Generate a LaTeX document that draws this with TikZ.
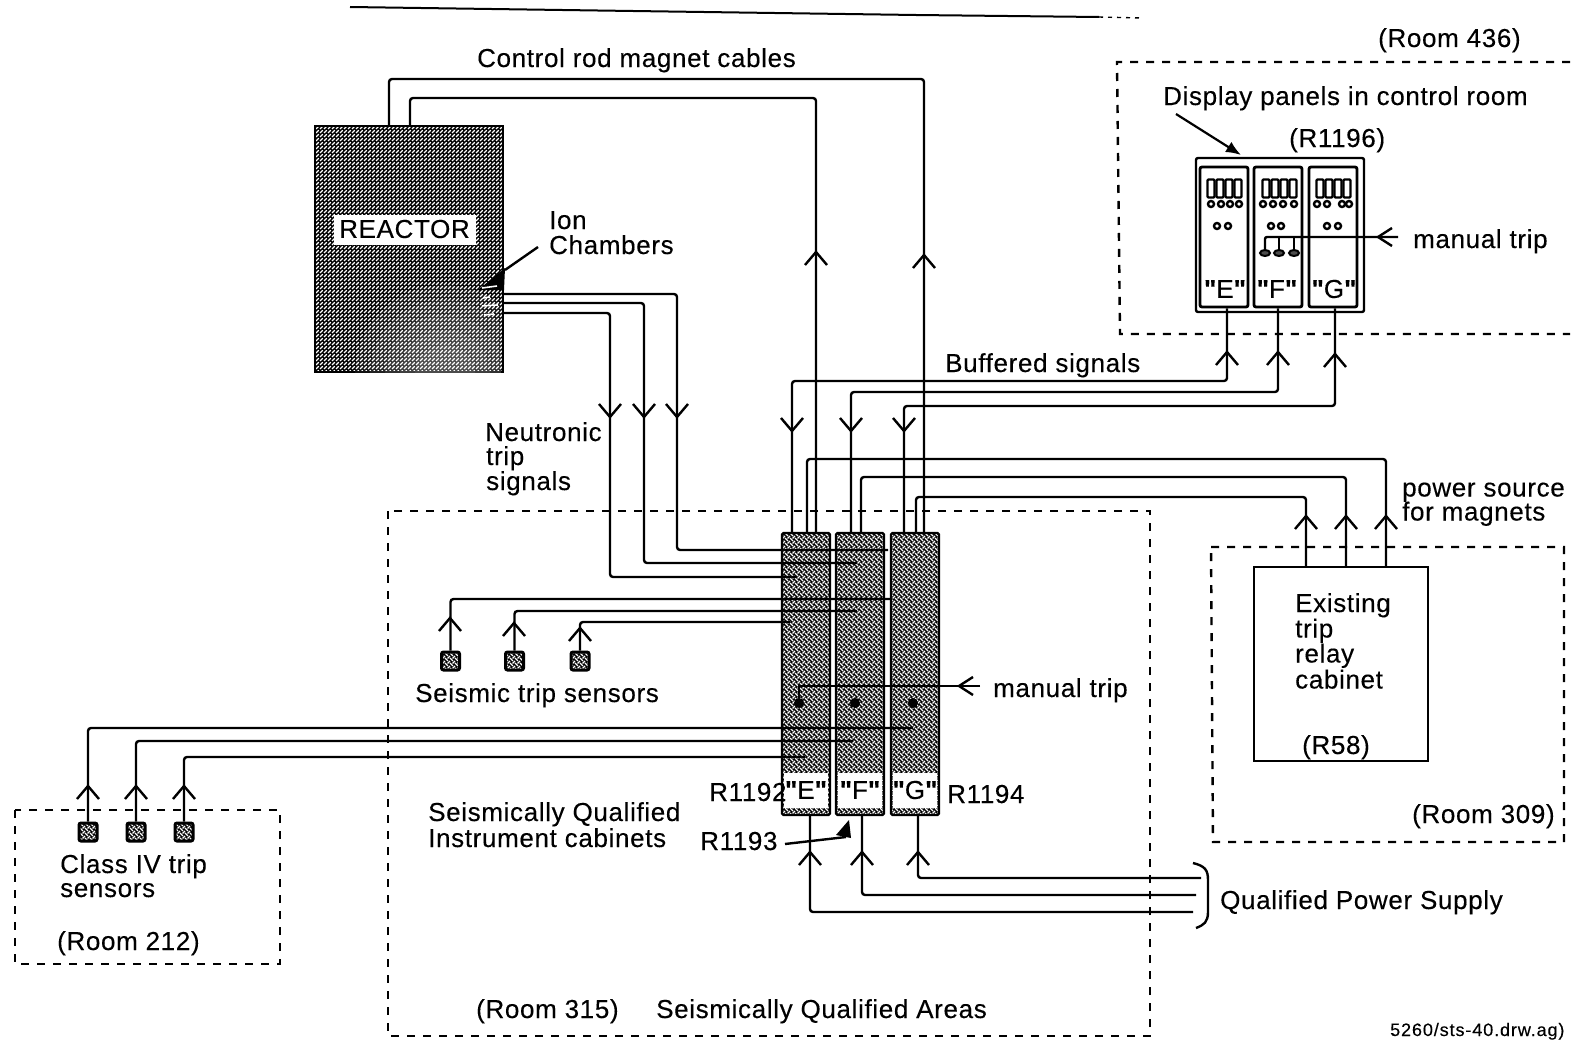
\documentclass[tikz,border=0pt]{standalone}
\usepackage{fontspec}
\setmainfont[LetterSpace=2.5,Ligatures=TeXOff,FakeBold=0.25]{Liberation Sans}
\usetikzlibrary{arrows.meta,patterns,shapes.geometric}
\pgfdeclarepatternformonly{dither}{\pgfqpoint{-1pt}{-1pt}}{\pgfqpoint{5pt}{5pt}}{\pgfqpoint{4pt}{4pt}}{%
  \pgfsetlinewidth{1.2pt}\pgfpathmoveto{\pgfqpoint{0pt}{0pt}}\pgfpathlineto{\pgfqpoint{2.8pt}{2.8pt}}\pgfusepathqstroke}
\pgfdeclarepatternformonly{ditherx}{\pgfqpoint{-1pt}{-1pt}}{\pgfqpoint{6pt}{6pt}}{\pgfqpoint{5pt}{5pt}}{%
  \pgfsetlinewidth{1.3pt}\pgfpathmoveto{\pgfqpoint{0pt}{3pt}}\pgfpathlineto{\pgfqpoint{3pt}{0pt}}\pgfusepathqstroke
  \pgfpathmoveto{\pgfqpoint{2.5pt}{2.5pt}}\pgfpathlineto{\pgfqpoint{5pt}{5pt}}\pgfusepathqstroke}
\newcommand{\qm}{{\bfseries"}}
\tikzset{
  wire/.style={line width=2.4pt,rounded corners=3pt},
  thinwire/.style={line width=1.8pt,rounded corners=3pt},
  room/.style={line width=2.4pt,dash pattern=on 8pt off 8pt},
  lab/.style={anchor=base west,inner sep=0pt,font=\fontsize{26}{30}\selectfont,text=black},
  vup/.pic={\draw[wire,rounded corners=0pt] (-11,13) -- (0,0) -- (11,13);},
  vdown/.pic={\draw[wire,rounded corners=0pt] (-11,-13) -- (0,0) -- (11,-13);},
  vleft/.pic={\draw[wire,rounded corners=0pt] (14,-9) -- (0,0) -- (14,9);},
  cabinet/.style={draw=black,line width=2.2pt,preaction={fill=black},pattern=ditherx,pattern color=white,rounded corners=1.5pt,inner sep=0pt,minimum width=48pt,minimum height=282pt},
  tag/.style={fill=white,inner sep=0pt,minimum width=44pt,minimum height=35pt,font=\fontsize{26}{30}\selectfont},
  sensor/.style={draw=black,line width=3pt,preaction={fill=black},pattern=ditherx,pattern color=white,rounded corners=2pt,inner sep=0pt,minimum size=18pt},
  panel/.style={draw=black,line width=2.8pt,fill=white,rounded corners=2pt,inner sep=0pt,minimum width=48pt,minimum height=140pt},
  digit/.style={draw=black,line width=2.4pt,fill=white,inner sep=0pt,minimum width=7pt,minimum height=18pt,rounded corners=1pt},
  lamp/.style={draw=black,line width=2.4pt,circle,fill=white,inner sep=0pt,minimum size=6pt},
  bulb/.style={draw=black,line width=2pt,ellipse,fill=black!70,inner sep=0pt,minimum width=10pt,minimum height=6pt},
  dot/.style={circle,fill=black,inner sep=0pt,minimum size=10pt},
}
\begin{document}
\begin{tikzpicture}[x=1pt,y=-1pt]
\useasboundingbox (0,0) rectangle (1572,1041);
% scan rule at top
\coordinate (ra) at (350,7); \coordinate (rb) at (916,15); \coordinate (rc) at (1099,17); \coordinate (rd) at (1141,18);
\draw[line width=2pt] (ra) -- (rb) -- (rc);
\draw[line width=1.4pt,dash pattern=on 4pt off 5pt] (rc) -- (rd);
% room outlines
\draw[room] (1570,62) -- (1117,62) -- (1120,334) -- (1570,334);
\draw[room] (388,511) rectangle (1150,1036);
\draw[room] (1211,547) -- (1564,547) -- (1564,842) -- (1213,842) -- cycle;
\draw[room] (15,810) rectangle (280,964);
% reactor
\node[draw=black,line width=2.6pt,preaction={fill=black},pattern=dither,pattern color=white,inner sep=0pt,minimum width=188pt,minimum height=246pt] (reactor) at (409,249) {};
\begin{scope}
\clip (316,127) rectangle (501,372);
\foreach \r in {90,75,60,45,30}{\fill[white,opacity=.07] (445,375) circle[radius=\r];}
\end{scope}
\node[fill=white,inner sep=0pt,minimum width=142pt,minimum height=30pt] (reactorbg) at (404.5,230) {};
\node[inner sep=0pt,font=\fontsize{26}{30}\selectfont] (reactorlab) at (404.5,229) {REACTOR};
\fill[black] (505,268) -- (478,290) -- (504,290) -- cycle;
\coordinate (ionA) at (538,247);\coordinate (ionB) at (505,270);
\draw[wire] (ionA) -- (ionB);
\draw[white,line width=1.6pt] (482,288) -- (497,286) (483,298) -- (490,297) (482,306) -- (498,305) (484,315) -- (494,314);
% cabinets
\node[cabinet] (cabE) at (806,674) {};
\node[cabinet] (cabF) at (860,674) {};
\node[cabinet] (cabG) at (915,674) {};
\node[tag] (tagE) at (806,790) {\qm E\qm};
\node[tag] (tagF) at (860,790) {\qm F\qm};
\node[tag] (tagG) at (915,790) {\qm G\qm};
% control rod magnet cables
\coordinate (m1) at (389,126); \coordinate (m1e) at (924,533);
\coordinate (m2) at (410,126); \coordinate (m2e) at (816,533);
\draw[wire] (m1) |- (924,79) -- (m1e);
\draw[wire] (m2) |- (816,98) -- (m2e);
\pic at (924,255) {vup};
\pic at (816,252) {vup};
% neutronic trip
\coordinate (n1) at (504,294); \coordinate (n1e) at (888,550);
\coordinate (n2) at (504,303); \coordinate (n2e) at (857,563);
\coordinate (n3) at (504,313); \coordinate (n3e) at (797,577);
\draw[wire] (n1) -| (677,417) |- (n1e);
\draw[wire] (n2) -| (644,417) |- (n2e);
\draw[wire] (n3) -| (610,417) |- (n3e);
\pic at (677,417) {vdown};
\pic at (644,417) {vdown};
\pic at (610,417) {vdown};
% seismic sensors
\node[sensor] (s1) at (450.5,661) {};
\node[sensor] (s2) at (514.5,661) {};
\node[sensor] (s3) at (580,661) {};
\coordinate (s1e) at (892,599); \coordinate (s2e) at (857,611); \coordinate (s3e) at (790,622);
\draw[wire] (s1.north) |- (s1e);
\draw[wire] (s2.north) |- (s2e);
\draw[wire] (s3.north) |- (s3e);
\pic at (450,618) {vup};
\pic at (514,623) {vup};
\pic at (580,628) {vup};
% manual trip at cabinets
\node[dot] (dE) at (799,703) {};
\node[dot] (dF) at (855,703) {};
\node[dot] (dG) at (913,703) {};
\coordinate (mt) at (980,686);
\draw[wire,rounded corners=0pt] (mt) -- (799,686) -- (dE);
\pic at (959,686) {vleft};
% class IV
\node[sensor] (c1) at (88,832) {};
\node[sensor] (c2) at (136,832) {};
\node[sensor] (c3) at (184,832) {};
\coordinate (c1e) at (913,728); \coordinate (c2e) at (853,741); \coordinate (c3e) at (805,757);
\draw[wire] (c1.north) |- (c1e);
\draw[wire] (c2.north) |- (c2e);
\draw[wire] (c3.north) |- (c3e);
\pic at (88,786) {vup};
\pic at (136,786) {vup};
\pic at (184,786) {vup};
% qualified power
\coordinate (p1) at (1193,912); \coordinate (p2) at (1196,895); \coordinate (p3) at (1201,878);
\draw[wire] (cabE.south -| 810,0) |- (p1);
\draw[wire] (cabF.south -| 862,0) |- (p2);
\draw[wire] (cabG.south -| 918,0) |- (p3);
\pic at (810,852) {vup};
\pic at (862,852) {vup};
\pic at (918,852) {vup};
\coordinate (ba) at (1193,863); \coordinate (bb) at (1196,928);
\draw[line width=2.4pt] (ba) .. controls (1205,866) and (1208,870) .. (1208,880) -- (1208,912) .. controls (1208,922) and (1204,925) .. (bb);
% R1193 pointer
\coordinate (ra1) at (785,844); \coordinate (ra2) at (846,837);
\draw[wire] (ra1) -- (ra2);
\fill[black] (849,820) -- (836,835) -- (851,838) -- cycle;
% display panel
\node[draw=black,line width=2.4pt,fill=white,rounded corners=2pt,inner sep=0pt,minimum width=168pt,minimum height=154pt] (disp) at (1280,235) {};
\node[panel] (pE) at (1224,237) {};
\node[panel] (pF) at (1278,237) {};
\node[panel] (pG) at (1333,237) {};
\foreach \x in {1211,1220,1229,1238,1266,1275,1284,1293,1320,1329,1338,1347}{\node[digit] at (\x,188.5) {};}
\foreach \x in {1211,1221,1230,1239,1263,1273,1283,1294,1317,1327,1342,1349}{\node[lamp] at (\x,204) {};}
\foreach \x in {1217,1228,1271,1281,1327,1338}{\node[lamp] at (\x,226) {};}
\node[bulb] (b1) at (1265,253) {};
\node[bulb] (b2) at (1279,253) {};
\node[bulb] (b3) at (1294,253) {};
\coordinate (pm) at (1398,237);
\draw[wire,rounded corners=2pt] (pm) -| (b1.north);
\draw[thinwire] (b2.north) -- (b2.north |- pm);
\draw[thinwire] (b3.north) -- (b3.north |- pm);
\pic at (1378,237) {vleft};
\node[inner sep=0pt,font=\fontsize{26}{30}\selectfont] (lE) at (1225,289) {\qm E\qm};
\node[inner sep=0pt,font=\fontsize{26}{30}\selectfont] (lF) at (1277,289) {\qm F\qm};
\node[inner sep=0pt,font=\fontsize{26}{30}\selectfont] (lG) at (1334,289) {\qm G\qm};
% buffered signals
\coordinate (bufE) at (792,533); \coordinate (bufF) at (851,533); \coordinate (bufG) at (904,533);
\draw[wire] (pE.south -| 1227,0) |- (bufE |- 0,381) -- (bufE);
\draw[wire] (pF.south -| 1278,0) |- (bufF |- 0,392) -- (bufF);
\draw[wire] (pG.south -| 1335,0) |- (bufG |- 0,406) -- (bufG);
\pic at (1227,352) {vup};
\pic at (1278,352) {vup};
\pic at (1335,354) {vup};
\pic at (792,431) {vdown};
\pic at (851,431) {vdown};
\pic at (904,431) {vdown};
% trip relay cabinet
\node[draw=black,line width=2.4pt,inner sep=0pt,minimum width=174pt,minimum height=194pt] (relay) at (1341,664) {};
\coordinate (pwE) at (807,533); \coordinate (pwF) at (861,533); \coordinate (pwG) at (916,533);
\draw[wire] (relay.north -| 1386,0) |- (pwE |- 0,459) -- (pwE);
\draw[wire] (relay.north -| 1346,0) |- (pwF |- 0,477) -- (pwF);
\draw[wire] (relay.north -| 1306,0) |- (pwG |- 0,497) -- (pwG);
\pic at (1306,516) {vup};
\pic at (1346,516) {vup};
\pic at (1386,516) {vup};
% filled pointer to panels
\coordinate (dpA) at (1176,114); \coordinate (dpB) at (1241,155);
\draw[line width=2.2pt,-{Latex[length=15pt,width=12pt]}] (dpA) -- (dpB);
% texts
\node[lab] (t1) at (477,67) {Control rod magnet cables};
\node[lab] (t2) at (1378,47) {(Room 436)};
\node[lab] (t3) at (1163,105) {Display panels in control room};
\node[lab] (t4) at (1289,147) {(R1196)};
\node[lab] (t5) at (1413,248) {manual trip};
\node[lab] (t6) at (945,372) {Buffered signals};
\node[lab] (t7) at (1402,496.5) {power source};
\node[lab] (t8) at (1402,520.5) {for magnets};
\node[lab] (t9) at (1295,612) {Existing};
\node[lab] (t10) at (1295,637.5) {trip};
\node[lab] (t11) at (1295,662.5) {relay};
\node[lab] (t12) at (1295,688.5) {cabinet};
\node[lab] (t13) at (1302,754) {(R58)};
\node[lab] (t14) at (1412,823) {(Room 309)};
\node[lab] (t15) at (485,441) {Neutronic};
\node[lab] (t16) at (486,465) {trip};
\node[lab] (t17) at (486,490) {signals};
\node[lab] (t18) at (549,229) {Ion};
\node[lab] (t19) at (549,254) {Chambers};
\node[lab] (t20) at (415,702) {Seismic trip sensors};
\node[lab] (t21) at (993,697) {manual trip};
\node[lab] (t22) at (428,821) {Seismically Qualified};
\node[lab] (t23) at (428,847) {Instrument cabinets};
\node[lab] (t24) at (709,801) {R1192};
\node[lab] (t25) at (947,803) {R1194};
\node[lab] (t26) at (700,850) {R1193};
\node[lab] (t27) at (60,873) {Class IV trip};
\node[lab] (t28) at (60,897) {sensors};
\node[lab] (t29) at (57,950) {(Room 212)};
\node[lab] (t30) at (476,1018) {(Room 315)};
\node[lab] (t31) at (656,1018) {Seismically Qualified Areas};
\node[lab] (t32) at (1220,909) {Qualified Power Supply};
\node[anchor=base west,inner sep=0pt,font=\fontsize{18}{20}\selectfont\addfontfeature{LetterSpace=5}] (t33) at (1390,1036) {5260/sts-40.drw.ag)};
\end{tikzpicture}
\end{document}
